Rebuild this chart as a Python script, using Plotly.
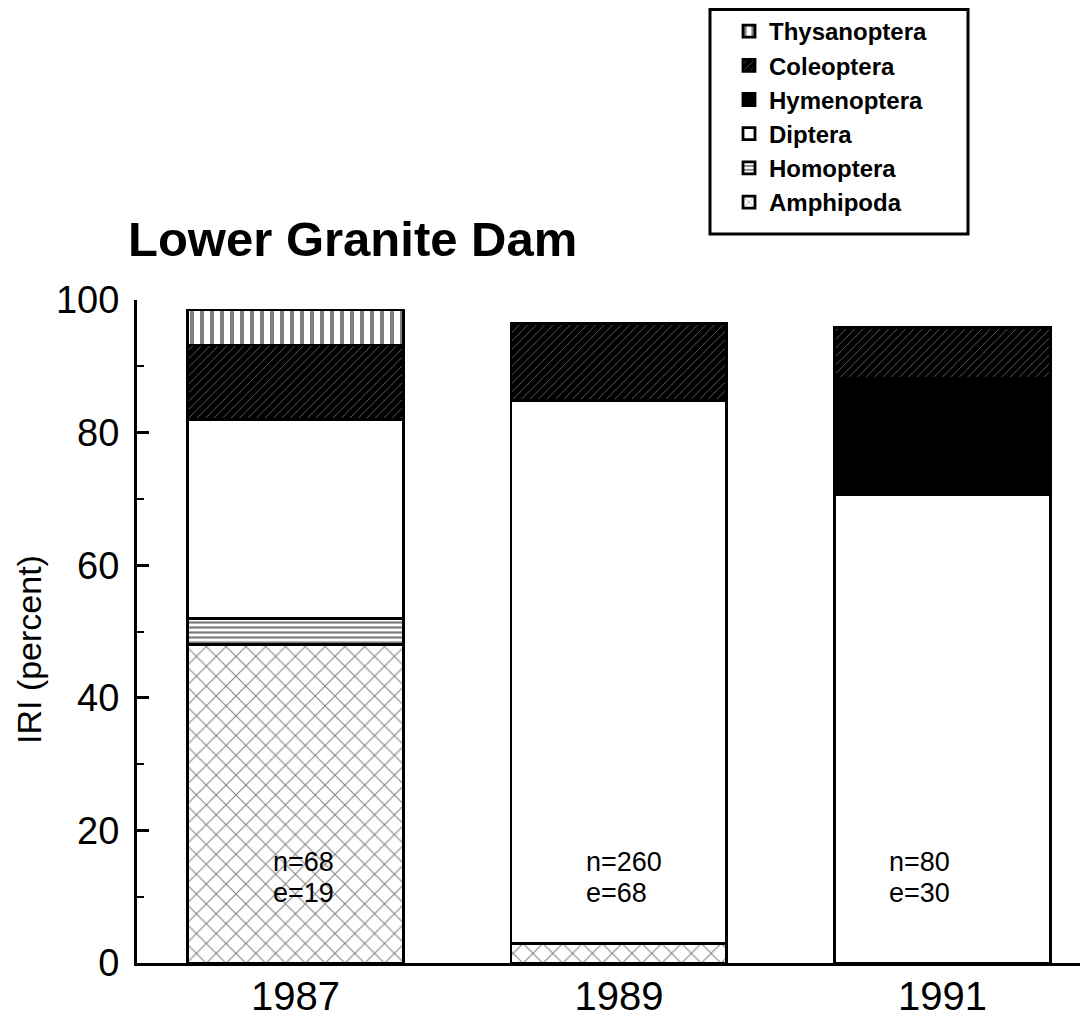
import plotly.graph_objects as go

# ---- data ----
years = ["1987", "1989", "1991"]
amphipoda = [48.0, 3.0, None]
homoptera = [4.0, None, None]
diptera = [30.0, 81.8, 70.6]
hymenoptera = [None, None, 17.6]
coleoptera = [11.2, 11.7, 7.7]
thysanoptera = [5.3, None, None]
n_values = [68, 260, 80]
e_values = [19, 68, 30]
y_ticks = [0, 20, 40, 60, 80, 100]

FONT = "Liberation Sans, Arial, Helvetica, sans-serif"

# page body has an 8px margin; figure coordinates = page - 8
W, H = 1080, 1009
L, T, B = 129, 292, 1009 - 955

series = [
    ("Amphipoda", amphipoda, dict(color="white", pattern=dict(shape="x", fgcolor="black", size=14, solidity=0.14))),
    ("Homoptera", homoptera, dict(color="white", pattern=dict(shape="-", fgcolor="black", size=5, solidity=0.45))),
    ("Diptera", diptera, dict(color="white")),
    ("Hymenoptera", hymenoptera, dict(color="black")),
    ("Coleoptera", coleoptera, dict(color="black", pattern=dict(shape="/", fgcolor="white", size=6, solidity=0.12))),
    ("Thysanoptera", thysanoptera, dict(color="white", pattern=dict(shape="|", fgcolor="black", size=10, solidity=0.4))),
]

fig = go.Figure()
for name, vals, mk in series:
    mk = dict(mk)
    mk["line"] = dict(color="black", width=2.8)
    fig.add_trace(go.Bar(
        x=years, y=vals, name=name, marker=mk, width=0.667,
        legendgroup=name,
    ))

# n / e labels inside the bars
label_shift = [-25, -35, -55]
for i, yr in enumerate(years):
    for txt, yy in ((f"n={n_values[i]}", 15.2), (f"e={e_values[i]}", 10.6)):
        fig.add_annotation(
            x=i, y=yy, xref="x", yref="y",
            text=txt,
            showarrow=False, align="left", xanchor="left", yanchor="middle",
            xshift=label_shift[i],
            font=dict(family=FONT, size=27, color="black"),
        )

PW, PH = W - L, 955 - T

# y-axis title
fig.add_annotation(
    x=(21 - L) / PW, y=(955 - 642) / PH, xref="paper", yref="paper",
    text="IRI (percent)", textangle=-90, showarrow=False,
    xanchor="center", yanchor="middle",
    font=dict(family=FONT, size=34, color="black"),
)

# legend frame (paper coords relative to plot area)
fig.add_shape(
    type="rect", xref="paper", yref="paper",
    x0=(702 - L) / PW, x1=(960 - L) / PW,
    y0=(955 - 226) / PH, y1=(955 - 1.5) / PH,
    line=dict(color="black", width=3), fillcolor="rgba(0,0,0,0)",
)

fig.update_layout(
    width=W, height=H,
    barmode="stack",
    paper_bgcolor="white", plot_bgcolor="white",
    margin=dict(l=L, r=0, t=T, b=B, autoexpand=False),
    font=dict(family=FONT, color="black"),
    title=dict(
        text="<b>Lower Granite Dam</b>",
        x=120 / W, xanchor="left", xref="container",
        y=1 - 231 / H, yanchor="middle", yref="container",
        font=dict(family=FONT, size=49, color="black"),
    ),
    legend=dict(
        xref="container", yref="container",
        x=721 / W, y=1 - 1 / H, xanchor="left", yanchor="top",
        traceorder="reversed",
        tracegroupgap=10,
        borderwidth=0, bgcolor="rgba(0,0,0,0)",
        font=dict(family=FONT, size=24, color="black", weight="bold"),
        itemwidth=30,
    ),
    xaxis=dict(
        type="category", range=[-0.49, 2.45],
        showline=True, linecolor="black", linewidth=3,
        ticks="", showgrid=False, zeroline=False,
        ticklabelstandoff=-4,
        tickfont=dict(family=FONT, size=40, color="black"),
    ),
    yaxis=dict(
        range=[0, 100], tickvals=y_ticks,
        showline=True, linecolor="black", linewidth=3,
        ticks="inside", ticklen=12, tickwidth=2.5, tickcolor="black",
        minor=dict(dtick=10, ticks="inside", ticklen=7, tickwidth=2, tickcolor="black"),
        showgrid=False, zeroline=False,
        ticklabelstandoff=7,
        tickfont=dict(family=FONT, size=38, color="black"),
    ),
)

fig.write_html("out.html")
